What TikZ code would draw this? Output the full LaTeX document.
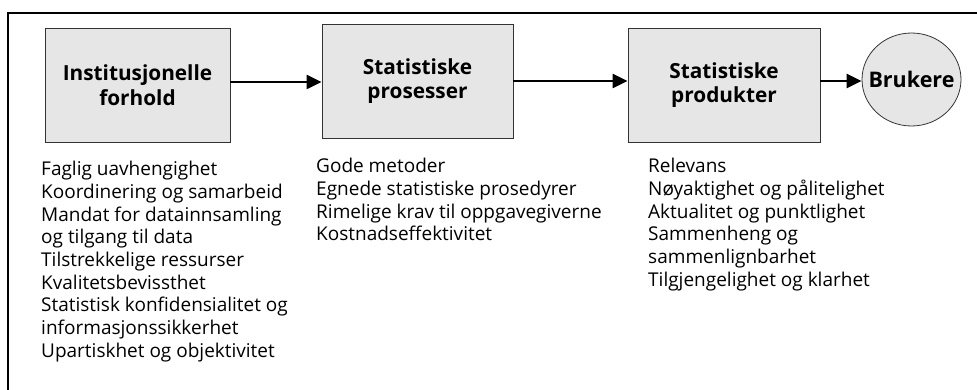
\documentclass[tikz,border=0pt]{standalone}
\usepackage{fontspec}
\setmainfont{Open Sans}
\usetikzlibrary{arrows.meta,shapes.geometric}
\definecolor{boxgray}{HTML}{E6E6E6}
\definecolor{edgegray}{HTML}{333333}
\tikzset{
  stage/.style={draw=edgegray, line width=0.9pt, fill=boxgray, minimum width=#1, align=center,
    font=\fontsize{20.8}{24.5}\selectfont\bfseries, inner sep=0pt},
  flow/.style={line width=2.4pt, -{Triangle[length=15pt,width=14pt]}},
  listtext/.style={anchor=north west, align=left, inner sep=0pt,
    font=\fontsize{19}{22.7}\selectfont},
  frameline/.style={line width=1.5pt}
}
\begin{document}
\begin{tikzpicture}[x=1pt,y=-1pt]
\useasboundingbox (0,0) rectangle (977,390);
\draw[frameline] (8,391) -- (8,13) -- (978,13);
\node[stage=185pt, minimum height=114pt] (inst) at (137.5,85) {Institusjonelle\\forhold};
\node[stage=191pt, minimum height=114pt] (proc) at (417.5,81) {Statistiske\\prosesser};
\node[stage=192pt, minimum height=114pt] (prod) at (724,85) {Statistiske\\produkter};
\node[ellipse, draw=edgegray, line width=0.8pt, fill=boxgray, minimum width=99pt, minimum height=93pt,
  inner xsep=-12pt, inner ysep=0pt, font=\fontsize{21.5}{24}\selectfont\bfseries] (users) at (911.5,79.5) {Brukere};
\draw[flow] (inst.east |- 0,82) -- (proc.west |- 0,82);
\draw[flow] (proc.east |- 0,81) -- (prod.west |- 0,81);
\draw[flow] (prod.east |- 0,81) -- (users.west |- 0,81);
\node[listtext] (l1) at (41,161) {Faglig uavhengighet\\Koordinering og samarbeid\\Mandat for datainnsamling\\og tilgang til data\\Tilstrekkelige ressurser\\Kvalitetsbevissthet\\Statistisk konfidensialitet og\\informasjonssikkerhet\\Upartiskhet og objektivitet};
\node[listtext] (l2) at (316,158) {Gode metoder\\Egnede statistiske prosedyrer\\Rimelige krav til oppgavegiverne\\Kostnadseffektivitet};
\node[listtext] (l3) at (648,158) {Relevans\\Nøyaktighet og pålitelighet\\Aktualitet og punktlighet\\Sammenheng og\\sammenlignbarhet\\Tilgjengelighet og klarhet};
\end{tikzpicture}
\end{document}
